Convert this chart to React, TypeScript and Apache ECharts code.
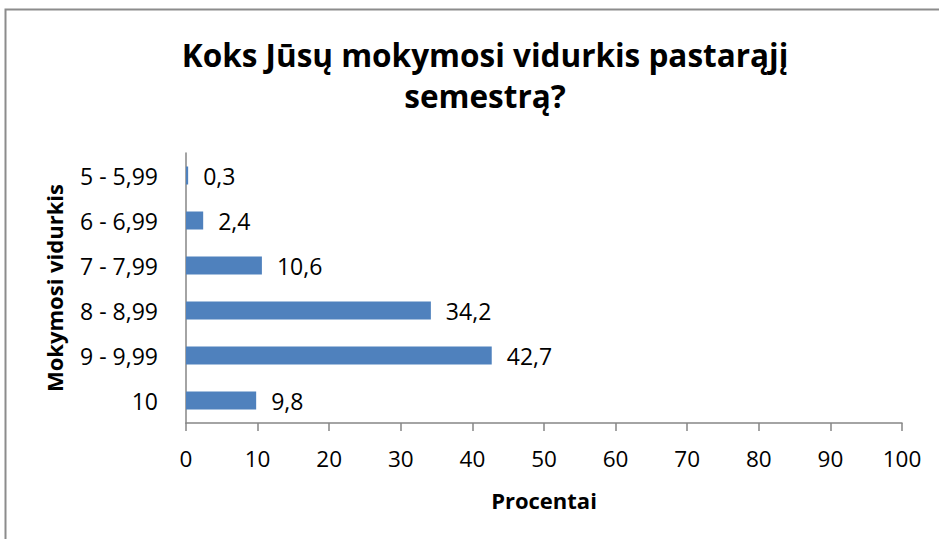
import React, { useEffect, useRef } from "react";
import * as echarts from "echarts";

const categories = ["10", "9 - 9,99", "8 - 8,99", "7 - 7,99", "6 - 6,99", "5 - 5,99"];
const values = [9.8, 42.7, 34.2, 10.6, 2.4, 0.3];
const xTicks = { min: 0, max: 100, interval: 10 };
const titleText = "Koks Jūsų mokymosi vidurkis pastarąjį\nsemestrą?";
const xAxisName = "Procentai";
const yAxisName = "Mokymosi vidurkis";

const FONT = "'Open Sans', 'DejaVu Sans', sans-serif";

export default function App() {
  const ref = useRef<HTMLDivElement>(null);
  useEffect(() => {
    if (!ref.current) return;
    const chart = echarts.init(ref.current, undefined, { renderer: "svg" });
    chart.setOption({
      animation: false,
      backgroundColor: "#ffffff",
      title: {
        text: titleText,
        left: 480,
        top: 29,
        textAlign: "center",
        textStyle: {
          fontFamily: FONT,
          fontWeight: "bold",
          fontSize: 31.5,
          lineHeight: 41,
          color: "#000000",
        },
      },
      graphic: [
        {
          type: "rect",
          shape: { x: 5.5, y: 9.5, width: 960, height: 560 },
          style: { fill: "none", stroke: "#8c8c8c", lineWidth: 2 },
          silent: true,
        },
      ],
      grid: { left: 186, right: 37, top: 153, bottom: 116, containLabel: false },
      xAxis: {
        type: "value",
        min: xTicks.min,
        max: xTicks.max,
        interval: xTicks.interval,
        name: xAxisName,
        nameLocation: "middle",
        nameGap: 66,
        nameTextStyle: { fontFamily: FONT, fontWeight: "bold", fontSize: 22, color: "#000" },
        axisLine: { show: true, lineStyle: { color: "#868686", width: 1.5 } },
        axisTick: { show: true, length: 8, lineStyle: { color: "#868686", width: 1.5 } },
        splitLine: { show: false },
        axisLabel: { fontFamily: FONT, fontSize: 22.5, color: "#000", margin: 24 },
      },
      yAxis: {
        type: "category",
        data: categories,
        name: yAxisName,
        nameLocation: "middle",
        nameGap: 121,
        nameRotate: 90,
        nameTextStyle: { fontFamily: FONT, fontWeight: "bold", fontSize: 22, color: "#000" },
        axisLine: { show: true, lineStyle: { color: "#868686", width: 1.5 } },
        axisTick: { show: false },
        splitLine: { show: false },
        axisLabel: { fontFamily: FONT, fontSize: 23, color: "#000", margin: 28 },
      },
      series: [
        {
          type: "bar",
          data: values,
          barWidth: 18,
          itemStyle: { color: "#4F81BD" },
          label: {
            show: true,
            position: "right",
            distance: 15,
            fontFamily: FONT,
            fontSize: 23,
            color: "#000",
            formatter: (p: any) => String(p.value).replace(".", ","),
          },
        },
      ],
    });
    return () => chart.dispose();
  }, []);
  return <div ref={ref} style={{ width: 939, height: 539, position: "absolute", left: 0, top: 0 }} />;
}
